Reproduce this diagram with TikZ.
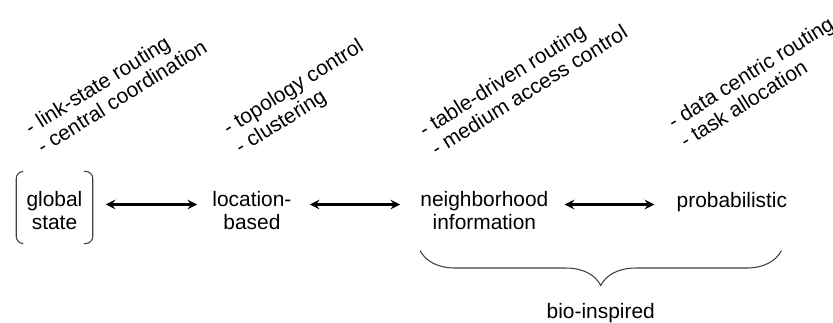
\documentclass[tikz,border=0pt]{standalone}
\usepackage{fontspec}
\setmainfont{Liberation Sans}
\usetikzlibrary{positioning,decorations.pathreplacing}

\begin{document}
\begin{tikzpicture}[
    x=0.02cm, y=-0.02cm,
    node distance=3.95cm,
    font=\fontsize{11.9}{13.1}\selectfont,
    stage/.style={align=center, inner sep=0pt},
    note/.style={rotate=32, anchor=north west, align=left, inner sep=0pt},
    link/.style={<->, >=stealth, line width=1.4pt},
    bracket/.style={draw=black!75, line width=0.6pt, rounded corners=0.14cm},
    curly/.style={draw=black!75, line width=0.6pt, decorate, decoration={brace, mirror, amplitude=0.7cm}}
]
\useasboundingbox (0,0) rectangle (833,323);

\node[stage] (global) at (54.5,211) {global\\state};
\node[stage, right of=global] (location) {location-\\based};
\node[stage, right of=location, xshift=0.7cm] (neighborhood) {neighborhood\\information};
\node[stage, right of=neighborhood, xshift=1cm, yshift=0.176cm] (probabilistic) {probabilistic};

% Notes
\node[note] (globalnote) at (22.2,122.1) {- link-state routing\\- central coordination};
\node[note] (locationnote) at (220.2,122.1) {- topology control\\- clustering};
\node[note] (neighbornote) at (416.2,124.1) {- table-driven routing\\- medium access control};
\node[note] (probnote) at (665.2,116.1) {- data centric routing\\- task allocation};

% Bracket
\draw[bracket] ([xshift=-0.06cm,yshift=0.4cm]global.north west) -- ([xshift=-0.2cm,yshift=0.4cm]global.north west)
    -- ([xshift=-0.2cm,yshift=-0.26cm]global.south west) -- ([xshift=-0.06cm,yshift=-0.26cm]global.south west);
\draw[bracket] ([xshift=0.02cm,yshift=0.4cm]global.north east) -- ([xshift=0.2cm,yshift=0.4cm]global.north east)
    -- ([xshift=0.2cm,yshift=-0.26cm]global.south east) -- ([xshift=0.02cm,yshift=-0.26cm]global.south east);

% Arrows
\draw[link, shorten <=0.46cm, shorten >=0.3cm] ([yshift=0.13cm]global.east) -- ([yshift=0.13cm]location.west);
\draw[link, shorten <=0.36cm, shorten >=0.4cm] ([yshift=0.13cm]location.east) -- ([yshift=0.13cm]neighborhood.west);
\draw[link, shorten <=0.32cm, shorten >=0.44cm] ([yshift=0.13cm]neighborhood.east) -- ([yshift=0.13cm]neighborhood.east -| probabilistic.west);

% Brace
\draw[curly] ([yshift=-0.4cm]neighborhood.south west) -- ([xshift=-0.12cm,yshift=-0.4cm]neighborhood.south west -| probabilistic.east)
    node[stage, midway, below=1.04cm] (bio) {bio-inspired};

\end{tikzpicture}
\end{document}
